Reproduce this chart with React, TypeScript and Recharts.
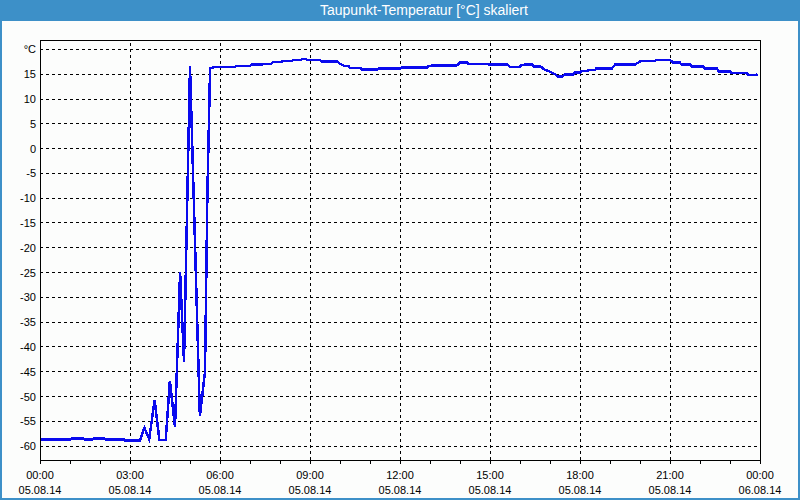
import React from "react";
import { LineChart, Line, XAxis, YAxis, CartesianGrid, ReferenceLine } from "recharts";

// time of day in hours (05.08.14 00:00 = 0)
const hours = [
  0, 1.0, 1.05, 1.45, 1.5, 1.75, 1.8, 2.15, 2.2, 2.8, 2.85, 3.33,
  3.48, 3.64, 3.82, 3.98, 4.19, 4.33, 4.5, 4.67, 4.8, 5.0, 5.33, 5.5, 5.58, 5.67,
  5.87, 6.5, 6.57, 7.0, 7.05, 7.4, 7.45, 7.7, 7.77, 8.05, 8.1, 8.4, 8.45, 8.7,
  8.75, 8.85, 8.9, 9.33, 9.38, 9.9, 10.0, 10.13, 10.27, 10.33, 10.67, 10.72,
  11.23, 11.28, 12.0, 12.05, 12.9, 12.95, 13.1, 13.9, 14.0, 14.23, 14.28, 14.9,
  14.95, 15.57, 15.67, 16.0, 16.05, 16.17, 16.4, 16.45, 16.67, 16.83, 17.0, 17.17,
  17.27, 17.4, 17.5, 17.77, 17.82, 18.0, 18.05, 18.23, 18.28, 18.5, 18.55, 19.07,
  19.17, 19.83, 19.93, 20.03, 20.5, 20.55, 21.0, 21.1, 21.33, 21.38, 21.67, 21.72,
  22.1, 22.15, 22.57, 22.62, 23.0, 23.05, 23.57, 23.62, 23.85, 23.92,
];

const dewPoint = [
  -58.7, -58.7, -58.5, -58.5, -58.7, -58.7, -58.5, -58.5, -58.7, -58.7, -58.9, -58.9,
  -56.3, -58.6, -50.7, -58.8, -58.8, -46.8, -56.1, -24.9, -43, 16.6, -54, -45, -9, 16.2,
  16.5, 16.5, 16.7, 16.7, 16.95, 16.95, 17.1, 17.1, 17.5, 17.5, 17.7, 17.7, 17.9, 17.9,
  18.1, 18.1, 17.9, 17.9, 17.6, 17.6, 17.1, 16.7, 16.7, 16.3, 16.3, 15.95,
  15.95, 16.15, 16.15, 16.35, 16.35, 16.6, 16.8, 16.8, 17.35, 17.35, 17.1, 17.1,
  16.95, 16.95, 16.5, 16.5, 16.8, 16.95, 16.95, 16.6, 16.6, 15.9, 15.5, 15.0,
  14.5, 14.5, 14.95, 14.95, 15.3, 15.3, 15.6, 15.6, 15.8, 15.8, 16.2, 16.2,
  16.95, 16.95, 17.3, 17.7, 17.7, 17.9, 17.9, 17.35, 17.35, 16.95, 16.95, 16.6,
  16.6, 16.15, 16.15, 15.5, 15.5, 15.2, 15.2, 14.8, 14.8, 15.0,
];

const hourTicks = Array.from({ length: 25 }, (_, i) => i);
const majorHours = [3, 6, 9, 12, 15, 18, 21];
const tempTicks = [-60, -55, -50, -45, -40, -35, -30, -25, -20, -15, -10, -5, 0, 5, 10, 15, 20];
const yDomain: [number, number] = [-62.8, 21.9];

const data = hours.map((h, i) => ({ h, v: dewPoint[i] }));

const blue = "#3d90c8";
const font = "'Liberation Sans', Arial, sans-serif";

function HourTick(props: any) {
  const { x, y, payload } = props;
  const h = payload.value;
  if (h % 3 !== 0) return null;
  const hh = String(h % 24).padStart(2, "0");
  const date = h >= 24 ? "06.08.14" : "05.08.14";
  return (
    <g>
      <text x={x} y={y + 13} textAnchor="middle" fontSize={11} fontFamily={font} fill="#000">{`${hh}:00`}</text>
      <text x={x} y={y + 28} textAnchor="middle" fontSize={11} fontFamily={font} fill="#000">{date}</text>
    </g>
  );
}

function TempTick(props: any) {
  const { x, y, payload } = props;
  const label = payload.value === 20 ? "°C" : String(payload.value);
  return (
    <text x={x} y={y + 4} textAnchor="end" fontSize={11} fontFamily={font} fill="#000">{label}</text>
  );
}

export default function App() {
  return (
    <div style={{ position: "absolute", left: 0, top: 0, width: 800, height: 500, background: "#fcfdfc", boxSizing: "border-box", borderLeft: `2px solid ${blue}`, borderRight: `2px solid ${blue}`, borderBottom: `2px solid ${blue}`, overflow: "hidden" }}>
      <div style={{ position: "absolute", left: -2, top: 0, width: 800, height: 21, background: blue, color: "#fff", fontFamily: font, fontSize: 14, lineHeight: "21px", zIndex: 2 }}>
        <span style={{ position: "absolute", left: 320 }}>Taupunkt-Temperatur [°C] skaliert</span>
      </div>
      <div style={{ position: "absolute", left: -2, top: 0 }}>
        <LineChart width={800} height={500} data={data} margin={{ top: 40, right: 40, left: 0, bottom: 0 }} style={{ shapeRendering: "crispEdges" }}>
          <CartesianGrid vertical={false} stroke="#000" strokeDasharray="3 3" />
          {majorHours.map((h) => (
            <ReferenceLine key={h} x={h} stroke="#000" strokeDasharray="3 3" />
          ))}
          <ReferenceLine y={yDomain[1]} stroke="#000" />
          <ReferenceLine x={24} stroke="#000" />
          <XAxis
            dataKey="h"
            type="number"
            domain={[0, 24]}
            ticks={hourTicks}
            interval={0}
            allowDataOverflow
            height={40}
            tickSize={4}
            stroke="#000"
            tick={<HourTick />}
          />
          <YAxis
            type="number"
            domain={yDomain}
            ticks={tempTicks}
            interval={0}
            allowDataOverflow
            width={40}
            tickLine={false}
            tickSize={0}
            tickMargin={4}
            stroke="#000"
            tick={<TempTick />}
          />
          <Line
            type="linear"
            dataKey="v"
            stroke="#0a0aee"
            strokeWidth={2.5}
            dot={false}
            isAnimationActive={false}
          />
        </LineChart>
      </div>
    </div>
  );
}
